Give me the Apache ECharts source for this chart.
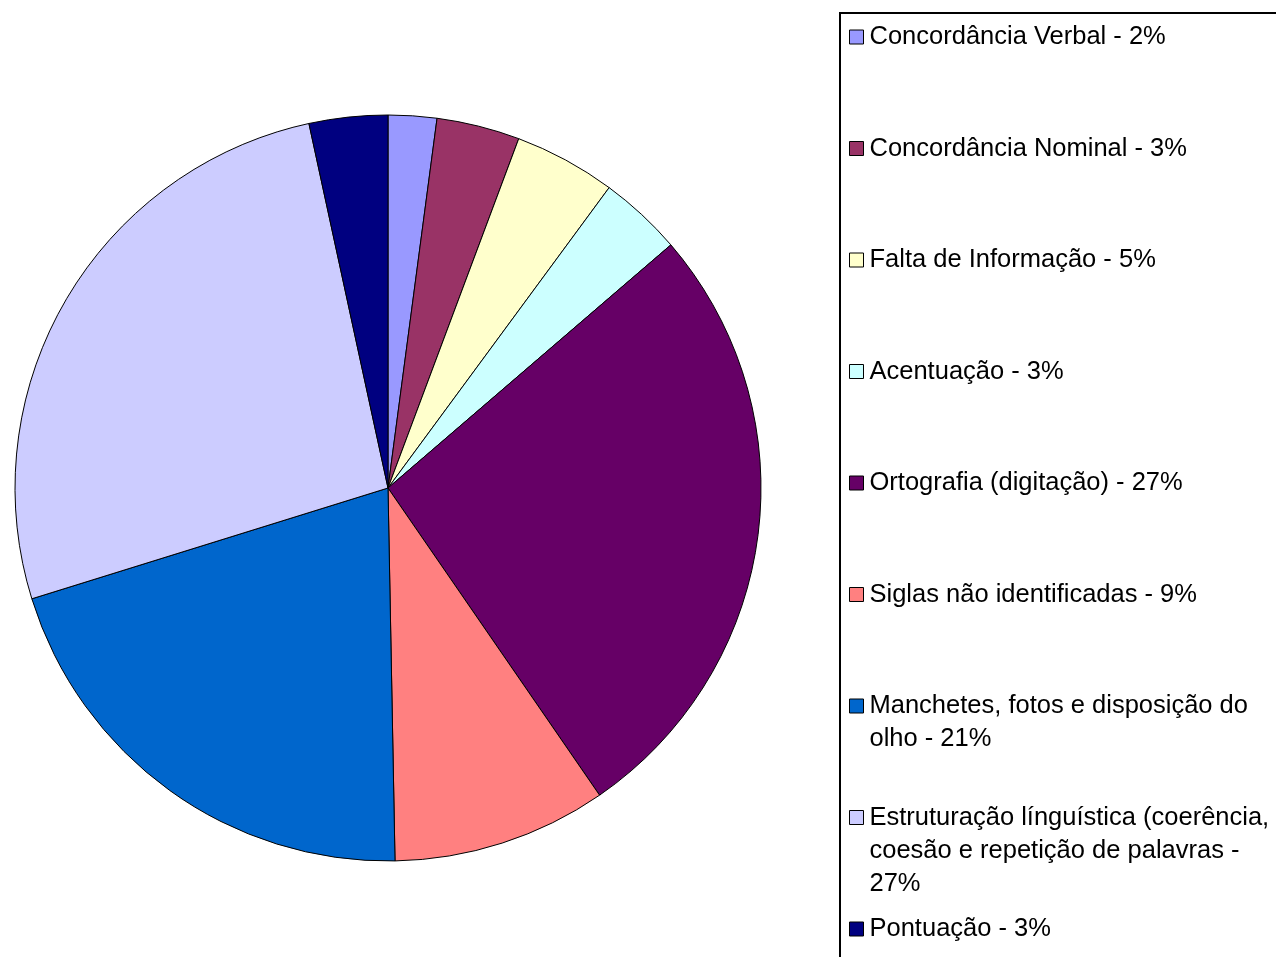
<!DOCTYPE html>
<html>
<head>
<meta charset="utf-8">
<script src="https://cdn.jsdelivr.net/npm/echarts@6/dist/echarts.min.js"></script>
<style>
  html, body { margin: 0; padding: 0; background: #fff; }
  #chart { width: 1276px; height: 957px; }
</style>
</head>
<body>
<div id="chart"></div>
<script>
// categories (legend names), in slice order, clockwise from 12 o'clock
var categories = [
  "Concordância Verbal",
  "Concordância Nominal",
  "Falta de Informação",
  "Acentuação",
  "Ortografia (digitação)",
  "Siglas não identificadas",
  "Manchetes, fotos e disposição do olho",
  "Estruturação línguística (coerência, coesão e repetição de palavras",
  "Pontuação"
];
// slice sizes
var values = [2.1, 3.6, 4.4, 3.6, 26.7, 9.3, 20.5, 26.4, 3.4];
// percentages printed in the legend
var pctLabels = ["2%", "3%", "5%", "3%", "27%", "9%", "21%", "27%", "3%"];
// legend text as it wraps in the picture
var legendText = [
  "Concordância Verbal - 2%",
  "Concordância Nominal - 3%",
  "Falta de Informação - 5%",
  "Acentuação - 3%",
  "Ortografia (digitação) - 27%",
  "Siglas não identificadas - 9%",
  "Manchetes, fotos e disposição do\nolho - 21%",
  "Estruturação línguística (coerência,\ncoesão e repetição de palavras -\n27%",
  "Pontuação - 3%"
];
var colors = ["#9999FF", "#993366", "#FFFFCC", "#CCFFFF", "#660066",
              "#FF8080", "#0066CC", "#CCCCFF", "#000080"];

var chart = echarts.init(document.getElementById("chart"));

var LINE_H = 33;
var FIRST_Y = 37;   // centre of first legend line
var STEP = 111.5;   // distance between legend entries

// one legend per entry so that every entry starts on the same step,
// blank lines above keep the icon level with the first line
var legends = categories.map(function (name, i) {
  var lines = legendText[i].split("\n");
  var pad = lines.length - 1;
  var blanks = [];
  for (var k = 0; k < pad; k++) blanks.push(" ");
  var txt = blanks.concat(lines).join("\n");
  return {
    data: [name],
    orient: "vertical",
    left: 849,
    top: FIRST_Y + i * STEP - (pad * LINE_H) - LINE_H / 2,
    padding: 0,
    icon: "rect",
    itemWidth: 14,
    itemHeight: 14,
    selectedMode: false,
    itemStyle: { borderColor: "#000", borderWidth: 1 },
    formatter: function () { return txt; },
    textStyle: {
      fontFamily: "Liberation Sans, Arial, sans-serif",
      fontSize: 25.5,
      color: "#000",
      lineHeight: LINE_H,
      padding: [0, 0, 0, 1]
    }
  };
});

chart.setOption({
  backgroundColor: "#fff",
  animation: false,
  color: colors,
  legend: legends,
  graphic: [{
    type: "rect",
    shape: { x: 840, y: 13, width: 480, height: 1000 },
    style: { fill: "none", stroke: "#000", lineWidth: 2 },
    z: -1
  }],
  series: [{
    type: "pie",
    center: [388, 488],
    radius: 373,
    startAngle: 90,
    clockwise: true,
    label: { show: false },
    labelLine: { show: false },
    emphasis: { disabled: true },
    itemStyle: { borderColor: "#000", borderWidth: 1 },
    data: categories.map(function (name, i) {
      return { name: name, value: values[i] };
    })
  }]
});
</script>
</body>
</html>
